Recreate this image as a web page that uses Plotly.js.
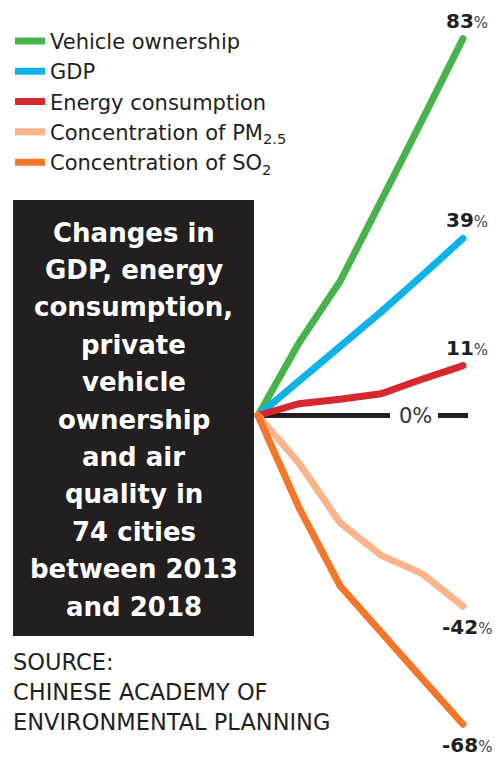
<!DOCTYPE html>
<html><head><meta charset="utf-8">
<script src="https://cdn.plot.ly/plotly-3.0.1.min.js"></script>
<style>
html,body{margin:0;padding:0;background:#fff;}
#chart{width:501px;height:760px;}
.scatterlayer .js-line{stroke-linecap:round;}
</style></head><body><div id="chart"></div>
<script>
// ---- data ----
const years = [2013, 2014, 2015, 2016, 2017, 2018];
const vehicleOwnership = [0, 16, 29.5, 47, 65, 83];
const gdp = [0, 7.5, 15.3, 22.8, 30.8, 39];
const energyConsumption = [0, 2.6, 3.6, 4.8, 8, 11];
const pm25 = [0, -10.5, -23.6, -30.8, -34.8, -42];
const so2 = [0, -20.3, -37.5, -47.9, -57.9, -68];
const seriesNames = ["Vehicle ownership", "GDP", "Energy consumption",
  "Concentration of PM<sub>2.5</sub>", "Concentration of SO<sub>2</sub>"];
const zeroLabel = "0%";
const titleLines = ["Changes in", "GDP, energy", "consumption,", "private", "vehicle",
  "ownership", "and air", "quality in", "74 cities", "between 2013", "and 2018"];
const sourceLines = ["SOURCE:", "CHINESE ACADEMY OF", "ENVIRONMENTAL PLANNING"];

// ---- styling / layout ----
const W = 501, H = 760;
const colors = ["#47b34b", "#0db2ea", "#d7282f", "#f9b48a", "#f47629"];
const seriesValues = [vehicleOwnership, gdp, energyConsumption, pm25, so2];
const FONT = "DejaVu Sans, Liberation Sans, sans-serif";
const INK = "#231f20";
const px = v => v / W;
const py = v => 1 - v / H;

const x0px = 258, yearPx = 41, zeroPx = 415.5, unitPx = 4.54;

const traces = seriesValues.map((vals, i) => ({
  type: "scatter", mode: "lines", x: years, y: vals, name: seriesNames[i],
  line: {color: colors[i], width: 7, shape: "linear"}, hoverinfo: "skip"
}));

const annotations = [];
seriesValues.forEach((vals, i) => {
  const last = vals[vals.length - 1];
  annotations.push({
    xref: "x", yref: "y", x: years[years.length - 1], y: last,
    xshift: 4, yshift: last >= 0 ? 18 : -21,
    text: "<b>" + Math.round(last) + "</b><span style=\"font-size:15px;font-weight:normal;color:#444;\">%</span>",
    showarrow: false, xanchor: "center", yanchor: "middle",
    font: {family: FONT, size: 20, color: INK}
  });
});
annotations.push({
  xref: "paper", yref: "y", x: px(415), y: 0, text: zeroLabel, showarrow: false,
  xanchor: "center", yanchor: "middle", font: {family: FONT, size: 21, color: "#333333"}
});
titleLines.forEach((t, i) => {
  annotations.push({
    xref: "paper", yref: "paper", x: px(133.5), y: py(232.5 + i * 37.4),
    text: t, showarrow: false, xanchor: "center", yanchor: "middle",
    font: {family: FONT, size: 26, color: "#ffffff", weight: 700}
  });
});
sourceLines.forEach((t, i) => {
  annotations.push({
    xref: "paper", yref: "paper", x: px(11), y: py(662 + i * 30),
    text: t, showarrow: false, xanchor: "left", yanchor: "middle",
    font: {family: FONT, size: 22.5, color: INK}
  });
});

const layout = {
  width: W, height: H, margin: {l: 0, r: 0, t: 0, b: 0, pad: 0},
  paper_bgcolor: "#ffffff", plot_bgcolor: "#ffffff",
  font: {family: FONT, color: INK},
  xaxis: {range: [2013 - x0px / yearPx, 2013 + (W - x0px) / yearPx], visible: false, fixedrange: true},
  yaxis: {range: [-(H - zeroPx) / unitPx, zeroPx / unitPx], visible: false, fixedrange: true},
  showlegend: true,
  legend: {x: px(10), y: py(20.8), xanchor: "left", yanchor: "top", bgcolor: "rgba(0,0,0,0)",
    borderwidth: 0, font: {family: FONT, size: 21, color: INK}, itemwidth: 30, traceorder: "normal"},
  shapes: [
    {type: "rect", xref: "paper", yref: "paper", x0: px(13), x1: px(254), y0: py(636), y1: py(200),
      fillcolor: INK, line: {width: 0}, layer: "below"},
    {type: "line", xref: "paper", yref: "y", x0: px(258), x1: px(390), y0: 0, y1: 0,
      line: {color: INK, width: 5}, layer: "below"},
    {type: "line", xref: "paper", yref: "y", x0: px(438), x1: px(468), y0: 0, y1: 0,
      line: {color: INK, width: 5}, layer: "below"}
  ],
  annotations: annotations
};

Plotly.newPlot("chart", traces, layout, {displayModeBar: false, staticPlot: true});
</script></body></html>
